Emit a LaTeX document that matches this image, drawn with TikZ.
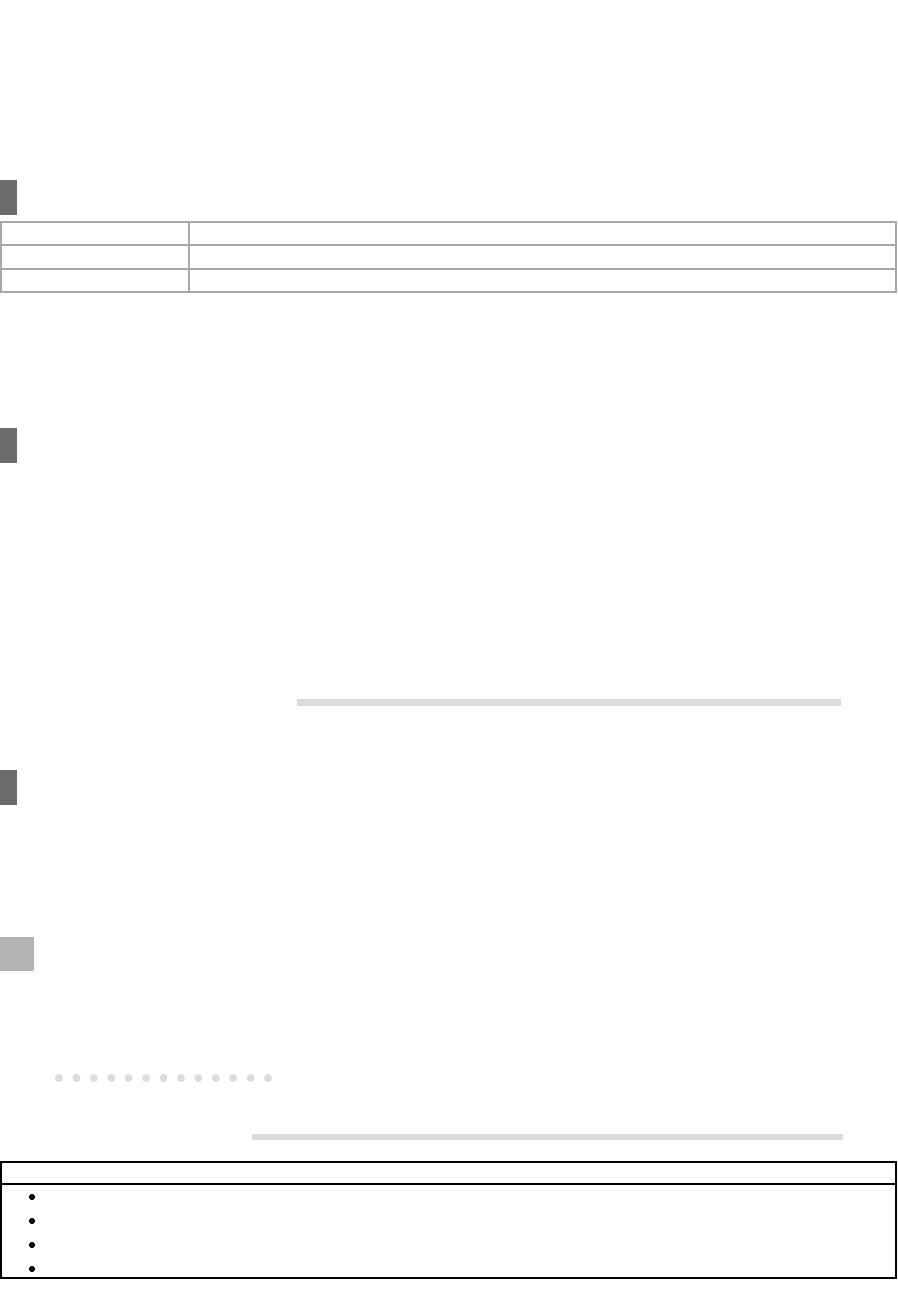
\documentclass[tikz,border=0pt]{standalone}
\usepackage{tikz}
\pgfdeclarelayer{bg}
\pgfsetlayers{bg,main}
\definecolor{markdark}{HTML}{6B6B6B}
\definecolor{marklight}{HTML}{B4B4B4}
\definecolor{rulegray}{HTML}{DCDCDC}
\definecolor{gridgray}{HTML}{A8A8A8}

\begin{document}
\begin{tikzpicture}[x=0.75pt, y=-0.75pt,
        darkmark/.style={fill=markdark, inner sep=0pt, anchor=north west, minimum width=12.75pt, minimum height=26.25pt},
        lightmark/.style={fill=marklight, inner sep=0pt, anchor=north west, minimum width=25.5pt, minimum height=25.5pt},
        rulebar/.style={fill=rulegray, inner sep=0pt, anchor=north west, minimum height=5pt},
        greydot/.style={circle, fill=rulegray, inner sep=0pt, minimum size=6pt},
        bulletdot/.style={circle, fill=black, inner sep=0pt, minimum size=4.6pt},
        gridline/.style={draw=gridgray, line width=1.5pt},
        boxline/.style={draw=black, line width=1.5pt}]
        \useasboundingbox (0,0) rectangle (898,1303);
        \node (m0) [darkmark] at (0,180) {};
        \node (m1) [darkmark] at (0,428) {};
        \node (m2) [darkmark] at (0,770) {};
        \node (m3) [lightmark] at (0,937) {};
        \node (r0) [rulebar, minimum width=408pt] at (297,699) {};
        \node (r1) [rulebar, minimum width=443.25pt] at (252,1133.5) {};
        \foreach \i in {0,...,12}
                \node (d\i) [greydot] at (59+17.42*\i,1078) {};
        \foreach \y [count=\k] in {1197,1221,1245,1269}
                \node (b\k) [bulletdot] at (32,\y) {};
        \begin{pgfonlayer}{bg}
                \draw [gridline] (1,222) rectangle (896,292);
                \draw [gridline] (1,245) -- (896,245);
                \draw [gridline] (1,269) -- (896,269);
                \draw [gridline] (189,222) -- (189,292);
                \draw [boxline] (1,1162) rectangle (896,1278);
                \draw [boxline] (1,1184) -- (896,1184);
        \end{pgfonlayer}
\end{tikzpicture}
\end{document}
